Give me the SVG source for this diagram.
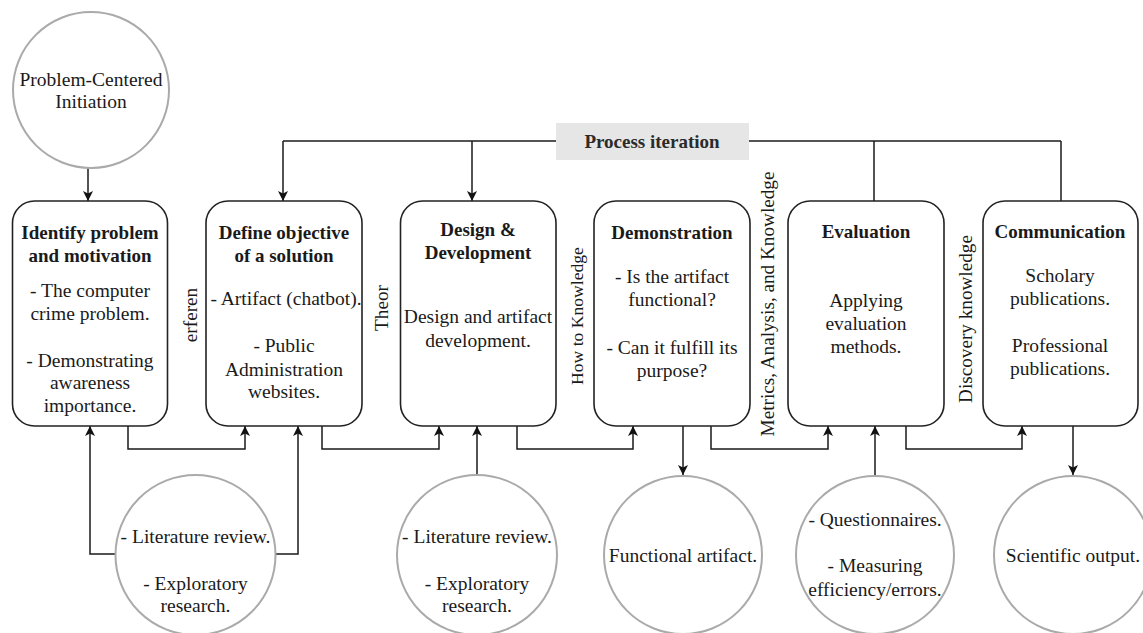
<svg xmlns="http://www.w3.org/2000/svg" width="1143" height="633" viewBox="0 0 1143 633" font-family="Liberation Serif">
  <defs>
    <marker id="arrow" viewBox="0 0 10 10" refX="10" refY="5" markerWidth="10" markerHeight="10" markerUnits="userSpaceOnUse" orient="auto">
      <path d="M0,0 L10,5 L0,10 L2.5,5 Z" fill="#111"/>
    </marker>
  </defs>
  <style>
    text { font-family: Liberation Serif, serif; }
    .box { fill: #fff; stroke: #222; stroke-width: 1.6; }
    .circ { fill: #fff; stroke: #aaa; stroke-width: 2; }
    .title { font-size: 19px; font-weight: bold; text-anchor: middle; }
    .body { font-size: 19.5px; text-anchor: middle; }
    .side { font-size: 19.2px; text-anchor: middle; }
    .conn { fill: none; stroke: #1a1a1a; stroke-width: 1.5; }
    .arr { marker-end: url(#arrow); }
  </style>

  <rect width="1143" height="633" fill="#fff"/>

  <!-- connectors -->
  <g id="connectors">
    <!-- process iteration loop -->
    <path class="conn" d="M283,141 H1061"/>
    <path class="conn arr" d="M283,141 V201"/>
    <path class="conn arr" d="M472,141 V201"/>
    <path class="conn" d="M874,141 V201"/>
    <path class="conn" d="M1061,141 V201"/>
    <!-- initiation into first step -->
    <path class="conn arr" d="M88,168 V201"/>
    <!-- step to step along the bottom -->
    <path class="conn arr" d="M128,426 V449 H245 V426"/>
    <path class="conn arr" d="M322,426 V449 H439 V426"/>
    <path class="conn arr" d="M517,426 V449 H633 V426"/>
    <path class="conn arr" d="M711,426 V449 H828 V426"/>
    <path class="conn arr" d="M906,426 V449 H1022 V426"/>
    <!-- inputs from the method circles -->
    <path class="conn arr" d="M116,554 H90 V426"/>
    <path class="conn arr" d="M275,554 H298 V426"/>
    <path class="conn arr" d="M477,475 V426"/>
    <path class="conn arr" d="M875,475 V426"/>
    <!-- outputs -->
    <path class="conn arr" d="M683,426 V475"/>
    <path class="conn arr" d="M1073,426 V475"/>
  </g>

  <g fill="#1a1a1a">

  <!-- process iteration label -->
  <g id="process-iteration">
    <rect x="556" y="123" width="193" height="37" fill="#e6e6e6"/>
    <text x="652" y="148" class="title" fill="#2b2b2b">Process iteration</text>
  </g>

  <g id="initiation">
    <circle class="circ" cx="91" cy="90" r="78"/>
    <text class="body" x="91" y="86">Problem-Centered</text>
    <text class="body" x="91" y="108">Initiation</text>
  </g>

  <!-- process steps -->
  <g id="identify">
    <rect class="box" x="12.5" y="201" width="155" height="225" rx="22"/>
    <text class="title" x="90" y="239">Identify problem</text>
    <text class="title" x="90" y="262">and motivation</text>
    <text class="body" x="90" y="297">- The computer</text>
    <text class="body" x="90" y="320">crime problem.</text>
    <text class="body" x="90" y="367">- Demonstrating</text>
    <text class="body" x="90" y="389">awareness</text>
    <text class="body" x="90" y="412">importance.</text>
  </g>

  <g id="define">
    <rect class="box" x="206" y="201" width="156" height="225" rx="22"/>
    <text class="title" x="284" y="239">Define objective</text>
    <text class="title" x="284" y="262">of a solution</text>
    <text class="body" x="286" y="305">- Artifact (chatbot).</text>
    <text class="body" x="284" y="352">- Public</text>
    <text class="body" x="284" y="376">Administration</text>
    <text class="body" x="284" y="398">websites.</text>
  </g>

  <g id="design">
    <rect class="box" x="400.5" y="201" width="155.5" height="225" rx="22"/>
    <text class="title" x="478" y="236">Design &amp;</text>
    <text class="title" x="478" y="259">Development</text>
    <text class="body" x="478" y="323">Design and artifact</text>
    <text class="body" x="478" y="347">development.</text>
  </g>

  <g id="demonstration">
    <rect class="box" x="594" y="201" width="156" height="225" rx="22"/>
    <text class="title" x="672" y="239">Demonstration</text>
    <text class="body" x="672" y="283">- Is the artifact</text>
    <text class="body" x="672" y="306">functional?</text>
    <text class="body" x="672" y="354">- Can it fulfill its</text>
    <text class="body" x="672" y="377">purpose?</text>
  </g>

  <g id="evaluation">
    <rect class="box" x="788" y="201" width="156" height="225" rx="22"/>
    <text class="title" x="866" y="238">Evaluation</text>
    <text class="body" x="866" y="307">Applying</text>
    <text class="body" x="866" y="330">evaluation</text>
    <text class="body" x="866" y="353">methods.</text>
  </g>

  <g id="communication">
    <rect class="box" x="983" y="201" width="155" height="225" rx="22"/>
    <text class="title" x="1060" y="238">Communication</text>
    <text class="body" x="1060" y="282">Scholary</text>
    <text class="body" x="1060" y="305">publications.</text>
    <text class="body" x="1060" y="352">Professional</text>
    <text class="body" x="1060" y="375">publications.</text>
  </g>

  <!-- knowledge labels between steps -->
  <g id="side-labels">
    <text class="side" transform="translate(197,315) rotate(-90)">erferen</text>
    <text class="side" transform="translate(388,308) rotate(-90)">Theor</text>
    <text class="side" style="font-size:17.6px" transform="translate(583,316) rotate(-90)">How to Knowledge</text>
    <text class="side" transform="translate(774,304) rotate(-90)">Metrics, Analysis, and Knowledge</text>
    <text class="side" transform="translate(972,319) rotate(-90)">Discovery knowledge</text>
  </g>

  <!-- method and output circles -->
  <g id="lit-review-1">
    <circle class="circ" cx="195.5" cy="555" r="80"/>
    <text class="body" x="195.5" y="543">- Literature review.</text>
    <text class="body" x="195.5" y="590">- Exploratory</text>
    <text class="body" x="195.5" y="612">research.</text>
  </g>

  <g id="lit-review-2">
    <circle class="circ" cx="477" cy="555" r="80"/>
    <text class="body" x="477" y="543">- Literature review.</text>
    <text class="body" x="477" y="590">- Exploratory</text>
    <text class="body" x="477" y="612">research.</text>
  </g>

  <g id="functional-artifact">
    <circle class="circ" cx="683" cy="555" r="79"/>
    <text class="body" x="683" y="562">Functional artifact.</text>
  </g>

  <g id="questionnaires">
    <circle class="circ" cx="875" cy="555" r="79"/>
    <text class="body" x="875" y="526">- Questionnaires.</text>
    <text class="body" x="875" y="572">- Measuring</text>
    <text class="body" x="875" y="596">efficiency/errors.</text>
  </g>

  <g id="scientific-output">
    <circle class="circ" cx="1073" cy="555" r="79"/>
    <text class="body" x="1073" y="562">Scientific output.</text>
  </g>

  </g>
</svg>
